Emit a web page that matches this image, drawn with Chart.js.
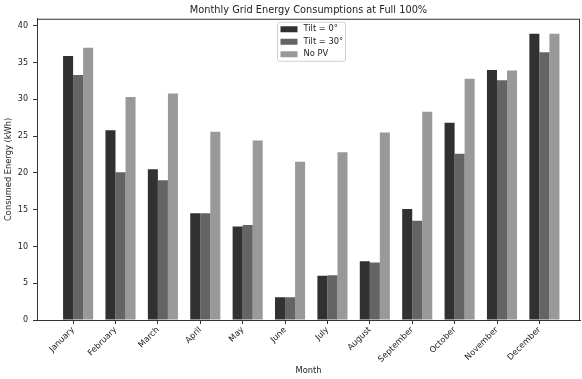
<!DOCTYPE html>
<html>
<head>
<meta charset="utf-8">
<script src="https://cdn.jsdelivr.net/npm/chart.js@4.4.1/dist/chart.umd.min.js"></script>
<style>
  html, body { margin: 0; padding: 0; background: #fff; }
  canvas { display: block; }
</style>
</head>
<body>
<canvas id="chart-energy" width="582" height="379"></canvas>
<script>
const months = ['January', 'February', 'March', 'April', 'May', 'June',
    'July', 'August', 'September', 'October', 'November', 'December'];
const tilt0 = [35.9, 25.8, 20.5, 14.5, 12.7, 3.1, 6.0, 8.0, 15.1, 26.8, 34.0, 38.9];
const tilt30 = [33.3, 20.1, 19.0, 14.5, 12.9, 3.1, 6.1, 7.8, 13.5, 22.6, 32.6, 36.4];
const noPV = [37.0, 30.3, 30.8, 25.6, 24.4, 21.5, 22.8, 25.5, 28.3, 32.8, 33.9, 38.9];
const yTicks = [0, 5, 10, 15, 20, 25, 30, 35, 40];

const FONT = 'DejaVu Sans';
const INK = '#222';

// month labels sit half a bar left of the group centre
const tickShift = 0.118;

const toPoints = arr => arr.map((v, i) => ({ x: i, y: v }));

// axes frame (top/right spines too)
const framePlugin = {
    id: 'frame',
    afterDatasetsDraw(chart) {
        const { ctx, chartArea: a } = chart;
        ctx.save();
        ctx.strokeStyle = '#333';
        ctx.lineWidth = 1;
        ctx.strokeRect(a.left + 0.5, a.top + 0.5, a.right - a.left - 1, a.bottom - a.top);
        ctx.restore();
    }
};

// legend box in the upper centre of the plot
const innerLegend = {
    id: 'innerLegend',
    afterDraw(chart) {
        const { ctx, chartArea: a } = chart;
        const sets = chart.data.datasets;
        const w = 68, rowH = 12.5, h = 39;
        const left = Math.round((a.left + a.right) / 2 - w / 2 + 2) + 0.5;
        const top = a.top + 3.5;
        ctx.save();
        ctx.fillStyle = 'rgba(255,255,255,0.85)';
        ctx.strokeStyle = '#d0d0d0';
        ctx.lineWidth = 1;
        ctx.beginPath();
        ctx.roundRect(left, top, w, h, 2);
        ctx.fill();
        ctx.stroke();
        ctx.font = `8.3px "${FONT}"`;
        ctx.textBaseline = 'middle';
        sets.forEach((ds, i) => {
            const cy = top + 7 + i * rowH;
            ctx.fillStyle = ds.backgroundColor;
            ctx.fillRect(left + 3, cy - 3, 17, 6);
            ctx.fillStyle = INK;
            ctx.fillText(ds.label, left + 26, cy);
        });
        ctx.restore();
    }
};

const ctx = document.getElementById('chart-energy').getContext('2d');
new Chart(ctx, {
    type: 'bar',
    data: {
        datasets: [
            { label: 'Tilt = 0°', data: toPoints(tilt0), backgroundColor: '#313131' },
            { label: 'Tilt = 30°', data: toPoints(tilt30), backgroundColor: '#646464' },
            { label: 'No PV', data: toPoints(noPV), backgroundColor: '#999999' }
        ]
    },
    options: {
        responsive: false,
        animation: false,
        categoryPercentage: 0.71,
        barPercentage: 1.0,
        layout: { padding: { left: 0, right: 2, top: 0, bottom: 0 } },
        plugins: {
            legend: { display: false },
            tooltip: { enabled: false },
            title: {
                display: true,
                fullSize: false,
                text: 'Monthly Grid Energy Consumptions at Full 100%',
                color: INK,
                font: { family: FONT, size: 9.8, weight: 'normal' },
                padding: { top: 5, bottom: 2 }
            }
        },
        scales: {
            x: {
                type: 'linear',
                offset: false,
                min: -0.97,
                max: 11.84,
                afterBuildTicks: s => { s.ticks = months.map((m, i) => ({ value: i - tickShift })); },
                afterFit: s => { s.height = 59; },
                ticks: {
                    autoSkip: false,
                    minRotation: 45,
                    maxRotation: 45,
                    padding: 1,
                    color: INK,
                    font: { family: FONT, size: 8.3 },
                    callback: (v, i) => months[i]
                },
                grid: { offset: false, drawOnChartArea: false, tickLength: 4, color: '#333' },
                border: { display: true, color: '#333' },
                title: {
                    display: true,
                    text: 'Month',
                    color: INK,
                    font: { family: FONT, size: 8.3 },
                    padding: { top: 0, bottom: 3 }
                }
            },
            y: {
                min: 0,
                max: 40.95,
                afterBuildTicks: s => { s.ticks = yTicks.map(v => ({ value: v })); },
                afterFit: s => { s.width = 37; },
                ticks: {
                    padding: 5,
                    color: INK,
                    font: { family: FONT, size: 8 }
                },
                grid: { drawOnChartArea: false, tickLength: 4, color: '#333' },
                border: { display: true, color: '#333' },
                title: {
                    display: true,
                    text: 'Consumed Energy (kWh)',
                    color: INK,
                    font: { family: FONT, size: 8.3 },
                    padding: { top: 4, bottom: 0 }
                }
            }
        }
    },
    plugins: [framePlugin, innerLegend]
});
</script>
</body>
</html>
